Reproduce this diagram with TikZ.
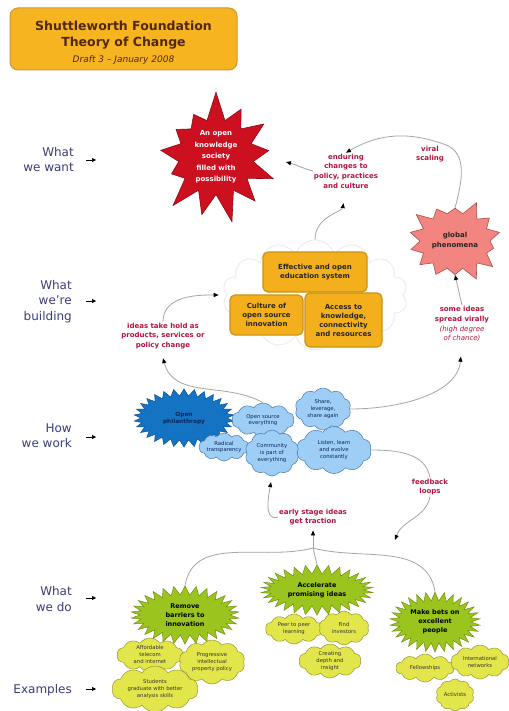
\documentclass[tikz,border=0pt]{standalone}
\usepackage{fontspec}
\setmainfont{DejaVu Sans}
\usetikzlibrary{shapes.symbols,shapes.geometric,arrows.meta}
\definecolor{lblblue}{RGB}{60,60,120}
\definecolor{redlbl}{RGB}{180,20,60}
\definecolor{connc}{RGB}{165,165,165}
\definecolor{titlefill}{RGB}{246,180,32}
\definecolor{titledraw}{RGB}{205,150,60}
\definecolor{titletext}{RGB}{80,40,10}
\definecolor{redstarfill}{RGB}{204,16,32}
\definecolor{redstardraw}{RGB}{140,10,20}
\definecolor{pinkfill}{RGB}{242,133,127}
\definecolor{pinkdraw}{RGB}{170,80,80}
\definecolor{orfill}{RGB}{244,176,28}
\definecolor{ordraw}{RGB}{205,145,20}
\definecolor{bluestarfill}{RGB}{20,115,195}
\definecolor{bluestardraw}{RGB}{10,80,150}
\definecolor{navytext}{RGB}{10,40,90}
\definecolor{cloudblue}{RGB}{158,205,245}
\definecolor{cloudbluedraw}{RGB}{70,120,180}
\definecolor{greenfill}{RGB}{155,196,30}
\definecolor{greendraw}{RGB}{110,143,16}
\definecolor{yelfill}{RGB}{227,230,74}
\definecolor{yeldraw}{RGB}{150,150,48}
\definecolor{palecloud}{RGB}{238,234,224}
\tikzset{
 sidelbl/.style={align=right, text=lblblue, font=\fontsize{12}{15.5}\selectfont, anchor=east, inner sep=0pt},
 sidearr/.style={-{Triangle[length=4pt,width=4pt]}, black, line width=0.6pt},
 redtxt/.style={align=center, text=redlbl, font=\bfseries\fontsize{7}{9.6}\selectfont, inner sep=1pt},
 conn/.style={draw=connc, line width=0.8pt, -{Triangle[length=5pt,width=4pt,color=black]}},
 plainconn/.style={draw=connc, line width=0.8pt},
 orbox/.style={rounded corners=5pt, fill=orfill, draw=ordraw, line width=1.2pt, align=center, font=\bfseries\fontsize{7}{9}\selectfont, text=black!85, inner sep=1pt},
 bcloud/.style={cloud, cloud puffs=10, cloud puff arc=110, cloud ignores aspect, fill=cloudblue, draw=cloudbluedraw, line width=0.5pt, align=center, font=\fontsize{5.3}{6.6}\selectfont, text=navytext, inner sep=0pt},
 ycloud/.style={cloud, cloud puffs=10, cloud puff arc=110, cloud ignores aspect, fill=yelfill, draw=yeldraw, line width=0.5pt, align=center, font=\fontsize{5.3}{7}\selectfont, text=black!80, inner sep=0pt},
 gstar/.style={starburst, starburst points=30, starburst point height=9pt, random starburst=0, fill=greenfill, draw=greendraw, line width=0.5pt, align=center, font=\bfseries\fontsize{6.5}{9}\selectfont, inner sep=0pt},
}
\begin{document}
\begin{tikzpicture}[x=1pt,y=1pt]
\path[use as bounding box] (0,0) rectangle (508,-711);
\fill[white] (0,0) rectangle (508,-711);
% title
\node[rounded corners=8pt, fill=titlefill, draw=titledraw, line width=1pt, minimum width=227pt, minimum height=62pt] (titlebg) at (123.5,-39) {};
\node[align=center, text=titletext, font=\fontsize{12.5}{16}\selectfont, inner sep=0pt] (title) at (123.5,-43) {\textbf{Shuttleworth Foundation}\\\textbf{Theory of Change}\\{\itshape\fontsize{9}{16}\selectfont Draft 3 -- January 2008}};
% side labels
\node[sidelbl] (want) at (74,-159.5) {What\\we want};
\node[sidelbl] (build) at (72,-301.5) {What\\we're\\building};
\node[sidelbl] (how) at (72,-435.5) {How\\we work};
\node[sidelbl] (wedo) at (72,-599) {What\\we do};
\node[sidelbl] (examples) at (72,-690) {Examples};
\draw[sidearr] ([xshift=12pt,yshift=-0.5pt]want.east) -- ([xshift=22pt,yshift=-0.5pt]want.east);
\draw[sidearr] ([xshift=14pt,yshift=0.5pt]build.east) -- ([xshift=24pt,yshift=0.5pt]build.east);
\draw[sidearr] ([xshift=14pt,yshift=-1.5pt]how.east) -- ([xshift=24pt,yshift=-1.5pt]how.east);
\draw[sidearr] ([xshift=14pt,yshift=1pt]wedo.east) -- ([xshift=24pt,yshift=1pt]wedo.east);
\draw[sidearr] ([xshift=14pt,yshift=1pt]examples.east) -- ([xshift=24pt,yshift=1pt]examples.east);
% top level
\node[starburst, starburst points=13, starburst point height=30pt, random starburst=7, minimum width=135pt, minimum height=135pt, fill=redstarfill, draw=redstardraw, line width=0.6pt, align=center, text=white, font=\bfseries\fontsize{7}{11.5}\selectfont, inner sep=0pt] (redstar) at (216,-157) {An open\\knowledge\\society\\filled with\\possibility};
\coordinate (redin) at (286,-162);
\node[redtxt] (endur) at (346,-171) {enduring\\changes to\\policy, practices\\and culture};
\node[redtxt] (viral) at (430,-154) {viral\\scaling};
\node[starburst, starburst points=14, starburst point height=15pt, random starburst=3, minimum width=100pt, minimum height=86pt, fill=pinkfill, draw=pinkdraw, line width=0.6pt, align=center, text=black!85, font=\bfseries\fontsize{7}{10}\selectfont, inner sep=0pt] (pink) at (455,-241) {global\\phenomena};
\node[redtxt] (some) at (462,-324) {some ideas\\spread virally\\{\mdseries\itshape (high degree}\\{\mdseries\itshape of chance)}};
% building
\node[cloud, cloud puffs=14, cloud ignores aspect, minimum width=185pt, minimum height=110pt, draw=palecloud, line width=0.8pt] (pale) at (315,-295) {};
\node[orbox, minimum width=104pt, minimum height=40pt] (eff) at (315,-272) {Effective and open\\education system};
\node[orbox, minimum width=73pt, minimum height=40pt] (cult) at (266.5,-315) {Culture of\\open source\\innovation};
\node[orbox, minimum width=77pt, minimum height=54pt] (acc) at (343.5,-320) {Access to\\knowledge,\\connectivity\\and resources};
\node[redtxt] (ideas) at (163,-336) {ideas take hold as\\products, services or\\policy change};
% how we work
\node[starburst, starburst points=30, starburst point height=7pt, random starburst=0, minimum width=100pt, minimum height=58pt, fill=bluestarfill, draw=bluestardraw, line width=0.5pt, align=center, text=navytext, font=\bfseries\fontsize{5.8}{7}\selectfont, inner sep=0pt] (open) at (184,-418) {Open\\philanthropy};
\node[bcloud, minimum width=62pt, minimum height=34pt] (ose) at (263,-420) {Open source\\everything};
\node[bcloud, minimum width=56pt, minimum height=42pt] (share) at (323,-409) {Share,\\leverage,\\share again};
\node[bcloud, minimum width=48pt, minimum height=28pt] (radical) at (224,-447) {Radical\\transparency};
\node[bcloud, minimum width=75pt, minimum height=47pt] (listen) at (334,-450) {Listen, learn\\and evolve\\constantly};
\node[bcloud, minimum width=54pt, minimum height=46pt] (comm) at (272,-453) {Community\\is part of\\everything};
\node[redtxt] (feedback) at (430,-487) {feedback\\loops};
\coordinate (fbend) at (395,-540);
\node[redtxt] (early) at (313,-517) {early stage ideas\\get traction};
\coordinate (junc) at (313,-548);
% what we do: examples
\node[ycloud, minimum width=66pt, minimum height=34pt] (afford) at (150,-655) {Affordable\\telecom\\and internet};
\node[ycloud, minimum width=66pt, minimum height=44pt] (prog) at (212,-662) {Progressive\\intellectual\\property policy};
\node[ycloud, minimum width=86pt, minimum height=46pt] (stud) at (155,-689) {Students\\graduate with better\\analysis skills};
\node[ycloud, minimum width=57pt, minimum height=30pt] (peer) at (294,-629) {Peer to peer\\learning};
\node[ycloud, minimum width=50pt, minimum height=34pt] (find) at (344,-628) {Find\\investors};
\node[ycloud, minimum width=62pt, minimum height=34pt] (creat) at (330,-661) {Creating\\depth and\\insight};
\node[ycloud, minimum width=58pt, minimum height=28pt] (fellow) at (425,-668) {Fellowships};
\node[ycloud, minimum width=58pt, minimum height=34pt] (intl) at (480,-662) {International\\networks};
\node[ycloud, minimum width=38pt, minimum height=32pt] (activ) at (455,-695) {Activists};
\node[gstar, minimum width=108pt, minimum height=58pt] (g1) at (185,-615) {Remove\\barriers to\\innovation};
\node[gstar, minimum width=112pt, minimum height=50pt] (g2) at (317,-590) {Accelerate\\promising ideas};
\node[gstar, minimum width=90pt, minimum height=60pt] (g3) at (435,-622) {Make bets on\\excellent\\people};
% connectors
\draw[conn] (ose.north) to[out=150, in=-75] ([yshift=-8pt]ideas.south);
\draw[conn, shorten >=8pt] (ideas.north) to[out=90, in=180] (pale.west);
\draw[conn, shorten >=14pt] (share.east) to[out=0, in=-95] (some.south);
\draw[conn] (some.north) -- (pink.south);
\draw[plainconn] (pink.north) to[out=75, in=-20] (viral.north east);
\draw[conn] (viral.north east) to[out=160, in=30] (endur.north);
\draw[conn] (endur.west) to[out=165, in=-15] (redin);
\draw[conn, shorten >=14pt] (pale.north) to[out=90, in=-100] (endur.south);
\draw[plainconn] (listen.east) to[out=0, in=100] (feedback.north);
\draw[conn] (feedback.south) to[out=-100, in=70] (fbend);
\draw[conn, shorten >=6pt] (early.west) to[out=200, in=-100] (comm.south);
\draw[conn, shorten >=4pt] (junc) -- (early.south);
\draw[plainconn] (g1.north) to[out=80, in=195] (junc);
\draw[plainconn] (g2.north) -- (junc);
\draw[plainconn] (g3.north) to[out=100, in=-15] (junc);
\end{tikzpicture}
\end{document}
